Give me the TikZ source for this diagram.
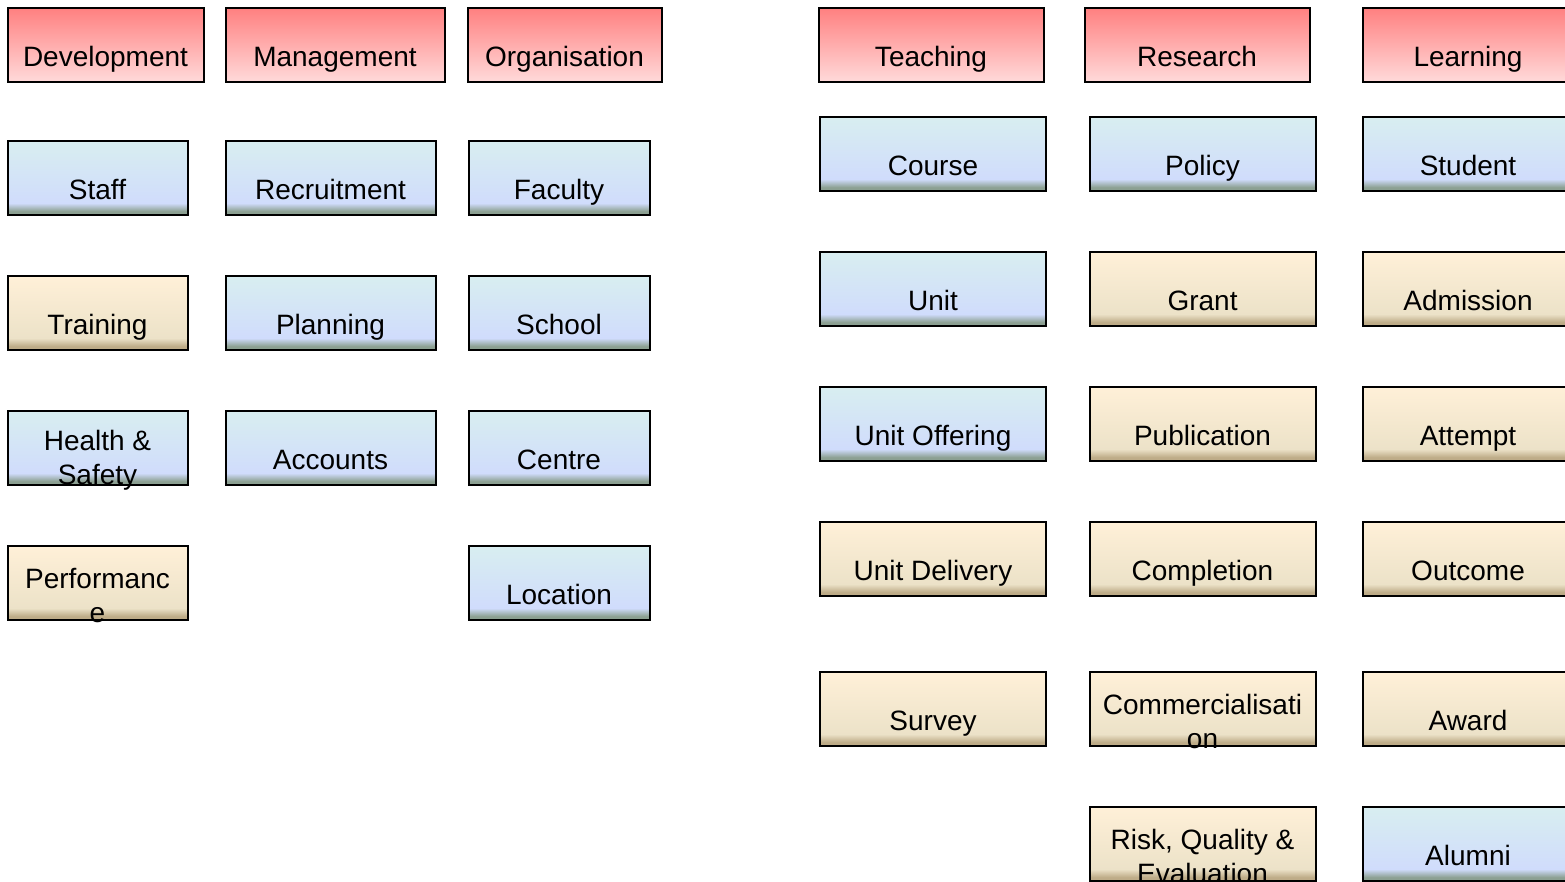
\documentclass[tikz,border=0pt]{standalone}
\usepackage{fontspec}
\setmainfont{Liberation Sans}

\definecolor{areaTop}{RGB}{255,128,128}
\definecolor{areaBot}{RGB}{255,218,218}
\definecolor{coreTop}{RGB}{216,238,240}
\definecolor{coreBot}{RGB}{208,220,252}
\definecolor{coreBand}{RGB}{140,160,146}
\definecolor{factTop}{RGB}{255,240,216}
\definecolor{factBot}{RGB}{236,226,200}
\definecolor{factBand}{RGB}{190,172,136}

\pgfdeclareverticalshading{coreshade}{100bp}{color(0bp)=(coreBand); color(27.5bp)=(coreBand);
  color(33bp)=(coreBot); color(75bp)=(coreTop); color(100bp)=(coreTop)}
\pgfdeclareverticalshading{factshade}{100bp}{color(0bp)=(factBand); color(27.5bp)=(factBand);
  color(33bp)=(factBot); color(75bp)=(factTop); color(100bp)=(factTop)}

\tikzset{every picture/.style={line width=1.5pt}}
\tikzset{
  entity/.style={draw=black, inner sep=0pt, outer sep=0pt, minimum height=55.5pt},
  areabox/.style={entity, top color=areaTop, bottom color=areaBot},
  corebox/.style={entity, shading=coreshade},
  factbox/.style={entity, shading=factshade},
  lbltwo/.style={font=\fontsize{21}{25.5}\selectfont, align=center, inner sep=0pt},
  lbl/.style={lbltwo, text height=15.3pt, text depth=4.4pt}
}

\begin{document}
\begin{tikzpicture}[x=0.75pt,y=0.75pt,yscale=-1,xscale=1]
	\useasboundingbox (0,0) rectangle (1565,881);
	\clip (0,0) rectangle (1565,881);

	% Subject areas
	\node[areabox, minimum width=147pt] (dev) at (105.5,45) {};
	\node[areabox, minimum width=164.25pt] (mgmt) at (335,45) {};
	\node[areabox, minimum width=145.5pt] (org) at (564.5,45) {};
	\node[areabox, minimum width=168.75pt] (teaching) at (931,45) {};
	\node[areabox, minimum width=168.75pt] (research) at (1197,45) {};
	\node[areabox, minimum width=157.5pt] (learning) at (1468,45) {};

	% Left block
	\node[corebox, minimum width=135pt] (staff) at (97.5,178) {};
	\node[corebox, minimum width=157.5pt] (recruit) at (330.5,178) {};
	\node[corebox, minimum width=135.75pt] (faculty) at (559,178) {};
	\node[factbox, minimum width=135pt] (training) at (97.5,313) {};
	\node[corebox, minimum width=157.5pt] (planning) at (330.5,313) {};
	\node[corebox, minimum width=135.75pt] (school) at (559,313) {};
	\node[corebox, minimum width=135pt] (health) at (97.5,448) {};
	\node[corebox, minimum width=157.5pt] (accounts) at (330.5,448) {};
	\node[corebox, minimum width=135.75pt] (centre) at (559,448) {};
	\node[factbox, minimum width=135pt] (perf) at (97.5,583) {};
	\node[corebox, minimum width=135.75pt] (location) at (559,583) {};

	% Right block
	\node[corebox, minimum width=169.5pt] (course) at (933,154) {};
	\node[corebox, minimum width=169.5pt] (policy) at (1202.5,154) {};
	\node[corebox, minimum width=157.5pt] (student) at (1468,154) {};
	\node[corebox, minimum width=169.5pt] (unit) at (933,289) {};
	\node[factbox, minimum width=169.5pt] (grant) at (1202.5,289) {};
	\node[factbox, minimum width=157.5pt] (admission) at (1468,289) {};
	\node[corebox, minimum width=169.5pt] (offering) at (933,424) {};
	\node[factbox, minimum width=169.5pt] (publication) at (1202.5,424) {};
	\node[factbox, minimum width=157.5pt] (attempt) at (1468,424) {};
	\node[factbox, minimum width=169.5pt] (delivery) at (933,559) {};
	\node[factbox, minimum width=169.5pt] (completion) at (1202.5,559) {};
	\node[factbox, minimum width=157.5pt] (outcome) at (1468,559) {};
	\node[factbox, minimum width=169.5pt] (survey) at (933,709) {};
	\node[factbox, minimum width=169.5pt] (commercial) at (1202.5,709) {};
	\node[factbox, minimum width=157.5pt] (award) at (1468,709) {};
	\node[factbox, minimum width=169.5pt] (risk) at (1202.5,844) {};
	\node[corebox, minimum width=157.5pt] (alumni) at (1468,844) {};

	% Text Nodes
	\node[lbl] (dev-t) at ([yshift=38.75pt]dev.north) {Development};
	\node[lbl] (mgmt-t) at ([yshift=38.75pt]mgmt.north) {Management};
	\node[lbl] (org-t) at ([yshift=38.75pt]org.north) {Organisation};
	\node[lbl] (teaching-t) at ([yshift=38.75pt]teaching.north) {Teaching};
	\node[lbl] (research-t) at ([yshift=38.75pt]research.north) {Research};
	\node[lbl] (learning-t) at ([yshift=38.75pt]learning.north) {Learning};
	\node[lbl] (staff-t) at ([yshift=38.75pt]staff.north) {Staff};
	\node[lbl] (recruit-t) at ([yshift=38.75pt]recruit.north) {Recruitment};
	\node[lbl] (faculty-t) at ([yshift=38.75pt]faculty.north) {Faculty};
	\node[lbl] (training-t) at ([yshift=38.75pt]training.north) {Training};
	\node[lbl] (planning-t) at ([yshift=38.75pt]planning.north) {Planning};
	\node[lbl] (school-t) at ([yshift=38.75pt]school.north) {School};
	\node[lbltwo] (health-t) at ([yshift=37pt]health.north) {Health \&\\Safety};
	\node[lbl] (accounts-t) at ([yshift=38.75pt]accounts.north) {Accounts};
	\node[lbl] (centre-t) at ([yshift=38.75pt]centre.north) {Centre};
	\node[lbltwo] (perf-t) at ([yshift=37pt]perf.north) {Performanc\\e};
	\node[lbl] (location-t) at ([yshift=38.75pt]location.north) {Location};
	\node[lbl] (course-t) at ([yshift=38.75pt]course.north) {Course};
	\node[lbl] (policy-t) at ([yshift=38.75pt]policy.north) {Policy};
	\node[lbl] (student-t) at ([yshift=38.75pt]student.north) {Student};
	\node[lbl] (unit-t) at ([yshift=38.75pt]unit.north) {Unit};
	\node[lbl] (grant-t) at ([yshift=38.75pt]grant.north) {Grant};
	\node[lbl] (admission-t) at ([yshift=38.75pt]admission.north) {Admission};
	\node[lbl] (offering-t) at ([yshift=38.75pt]offering.north) {Unit Offering};
	\node[lbl] (publication-t) at ([yshift=38.75pt]publication.north) {Publication};
	\node[lbl] (attempt-t) at ([yshift=38.75pt]attempt.north) {Attempt};
	\node[lbl] (delivery-t) at ([yshift=38.75pt]delivery.north) {Unit Delivery};
	\node[lbl] (completion-t) at ([yshift=38.75pt]completion.north) {Completion};
	\node[lbl] (outcome-t) at ([yshift=38.75pt]outcome.north) {Outcome};
	\node[lbl] (survey-t) at ([yshift=38.75pt]survey.north) {Survey};
	\node[lbltwo] (commercial-t) at ([yshift=37pt]commercial.north) {Commercialisati\\on};
	\node[lbl] (award-t) at ([yshift=38.75pt]award.north) {Award};
	\node[lbltwo] (risk-t) at ([yshift=37pt]risk.north) {Risk, Quality \&\\Evaluation};
	\node[lbl] (alumni-t) at ([yshift=38.75pt]alumni.north) {Alumni};

	\end{tikzpicture}
\end{document}
